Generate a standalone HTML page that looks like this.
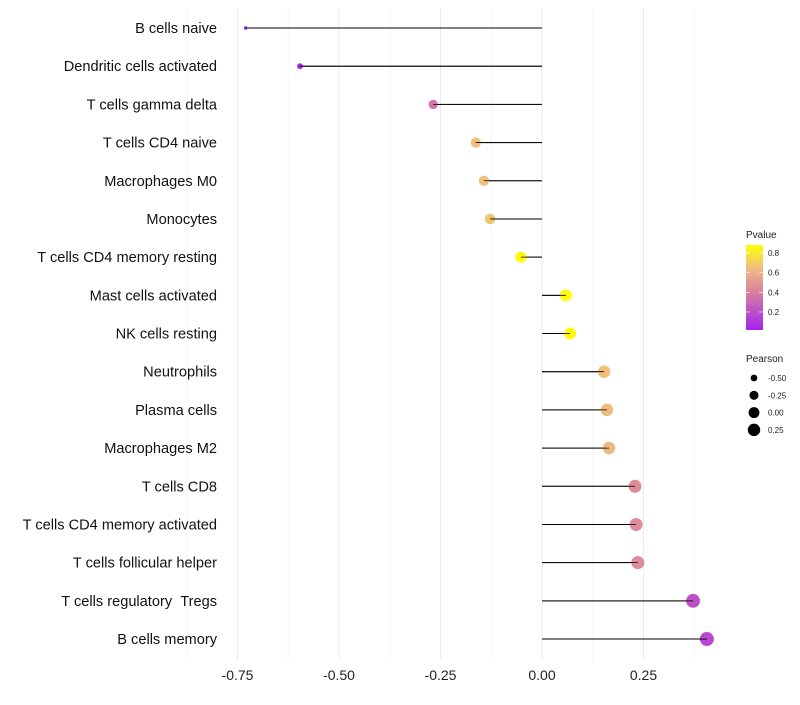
<!DOCTYPE html>
<html><head><meta charset="utf-8"><style>body{margin:0;background:#fff}svg{font-family:"Liberation Sans",sans-serif}</style></head>
<body>
<svg id="c" width="800" height="700"></svg>
<script>
const categories=["B cells naive","Dendritic cells activated","T cells gamma delta","T cells CD4 naive","Macrophages M0","Monocytes","T cells CD4 memory resting","Mast cells activated","NK cells resting","Neutrophils","Plasma cells","Macrophages M2","T cells CD8","T cells CD4 memory activated","T cells follicular helper","T cells regulatory \u00a0Tregs","B cells memory"];
const pearson=[-0.73,-0.596,-0.268,-0.163,-0.143,-0.128,-0.052,0.059,0.069,0.153,0.16,0.165,0.229,0.232,0.236,0.372,0.406];
const pvalue=[0.02,0.05,0.35,0.65,0.65,0.67,0.86,0.87,0.86,0.66,0.64,0.63,0.45,0.45,0.45,0.2,0.17];
const xTicks=[-0.75,-0.5,-0.25,0,0.25];
const xTickLabels=["-0.75","-0.50","-0.25","0.00","0.25"];
const legendP=[0.8,0.6,0.4,0.2];
const legendR=[-0.5,-0.25,0,0.25];
const NS="http://www.w3.org/2000/svg",svg=document.getElementById('c');
function mk(t,a,p){const e=document.createElementNS(NS,t);for(const k in a)e.setAttribute(k,a[k]);(p||svg).appendChild(e);return e;}
const x=v=>542+v*406;
const y=i=>28+i*38.19;
const rad=p=>Math.sqrt(Math.max(2,32.8+40.5*p));
const stops=[[0,[160,32,240]],[0.4,[216,128,160]],[0.65,[240,190,128]],[0.88,[255,255,0]]];
function col(p){for(let i=1;i<stops.length;i++){if(p<=stops[i][0]||i==stops.length-1){const a=stops[i-1],b=stops[i];let t=(p-a[0])/(b[0]-a[0]);t=Math.max(0,Math.min(1,t));return 'rgb('+a[1].map((c,k)=>Math.round(c+(b[1][k]-c)*t)).join(',')+')';}}}
for(let v=-0.875;v<=0.45;v+=0.125){const g=mk('line',{x1:x(v),x2:x(v),y1:8,y2:660,stroke:Math.abs((v/0.25)%1)<1e-6?'#ebebeb':'#f5f5f5','stroke-width':1});

}
xTicks.forEach((v,i)=>{const t=mk('text',{x:x(v),y:680,'text-anchor':'middle','font-size':14,fill:'#222'});t.textContent=xTickLabels[i];

});
categories.forEach((c,i)=>{
const t=mk('text',{x:217,y:y(i)+5,'text-anchor':'end','font-size':14.6,fill:'#111'});t.textContent=c;


const l=mk('line',{x1:x(0),x2:x(pearson[i]),y1:y(i),y2:y(i),stroke:'#000','stroke-width':1});


const d=mk('circle',{cx:x(pearson[i]),cy:y(i),r:rad(pearson[i]),fill:col(pvalue[i])});


mk('line',{x1:x(0),x2:x(pearson[i]),y1:y(i),y2:y(i),stroke:'#000','stroke-width':0.8});});
const lt=mk('text',{x:746,y:238,'font-size':10,fill:'#222'});lt.textContent='Pvalue';


const defs=mk('defs',{});const gr=mk('linearGradient',{id:'g',x1:0,y1:1,x2:0,y2:0},defs);
const lo=0.017,hi=0.88;
for(let p=lo;p<=hi+0.001;p+=0.05){mk('stop',{offset:(p-lo)/(hi-lo),'stop-color':col(p)},gr);}
const cb=mk('rect',{x:746,y:245,width:17,height:85,fill:'url(#g)'});


const py=p=>330-(p-lo)/(hi-lo)*85;
legendP.forEach(p=>{mk('line',{x1:746,x2:750,y1:py(p),y2:py(p),stroke:'#fff','stroke-width':0.6});mk('line',{x1:759,x2:763,y1:py(p),y2:py(p),stroke:'#fff','stroke-width':0.6});
const t=mk('text',{x:768,y:py(p)+3,'font-size':8,fill:'#222'});t.textContent=p.toFixed(1);

});
const st=mk('text',{x:746,y:362,'font-size':10,fill:'#222'});st.textContent='Pearson';


legendR.forEach((r,i)=>{const cy=378+i*17.3;const c=mk('circle',{cx:754,cy:cy,r:rad(r)*0.95,fill:'#000'});


const t=mk('text',{x:768,y:cy+3,'font-size':8,fill:'#222'});t.textContent=r.toFixed(2);

});
</script>
</body></html>
